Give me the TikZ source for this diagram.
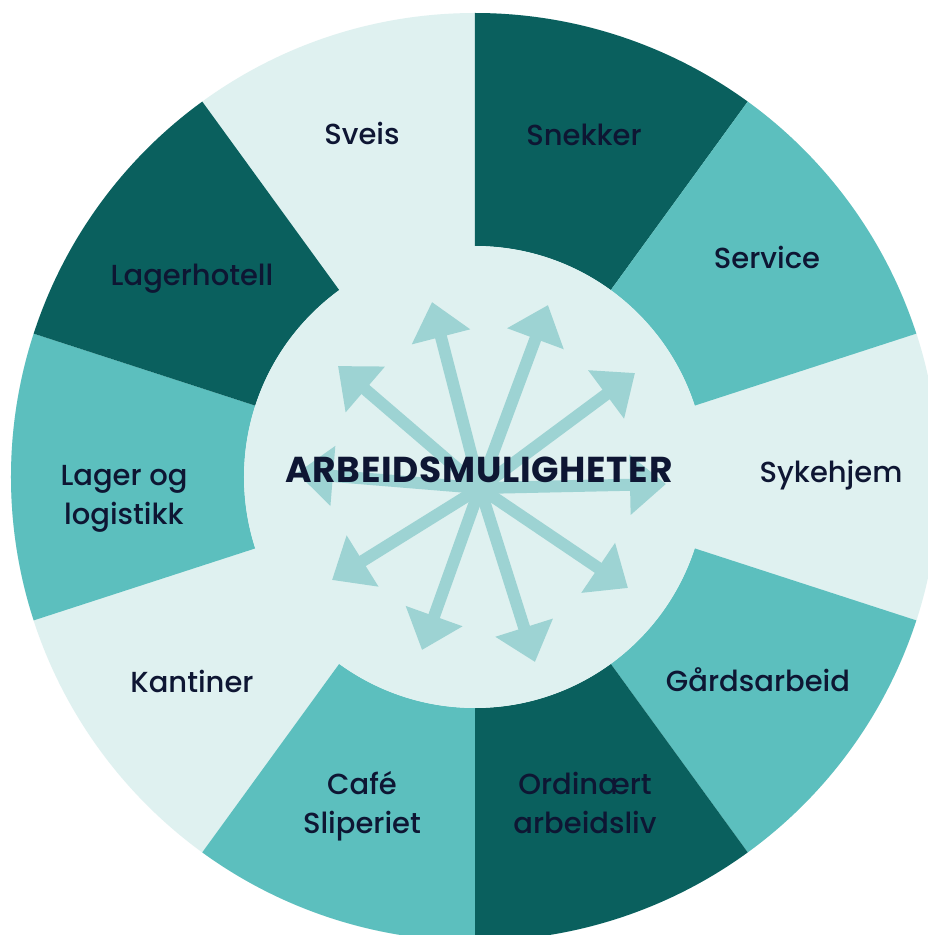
\documentclass[tikz,border=0pt]{standalone}
\usepackage{fontspec}
\IfFontExistsTF{Poppins Medium}{\setmainfont{Poppins Medium}}{\setmainfont{Poppins}}
\newfontfamily\titlefont{Poppins}[UprightFont=*-Bold]
\usetikzlibrary{arrows.meta}
\definecolor{dk}{HTML}{0A605E}
\definecolor{md}{HTML}{5CBFBE}
\definecolor{lt}{HTML}{DFF1F0}
\definecolor{arw}{HTML}{9DD3D3}
\definecolor{ink}{HTML}{0E1633}
\newcommand\sectorfill[3]{\fill[#3] (#1:231) -- (#1:464) arc[start angle=#1,end angle=#2,radius=464] -- (#2:231) arc[start angle=#2,end angle=#1,radius=231] -- cycle;}
\begin{document}
\begin{tikzpicture}[x=1pt,y=1pt,
 lbl/.style={font=\fontsize{29}{39}\selectfont, text=ink, align=center, anchor=base, inner sep=0pt},
 ttl/.style={font=\titlefont\fontsize{36}{40}\selectfont\addfontfeatures{LetterSpace=2}, text=ink, anchor=base, inner sep=0pt},
 arr/.style={draw=arw, line width=12pt, -{Triangle[length=36pt,width=58pt]}}]
\useasboundingbox (-475,-458) rectangle (453,477);
\fill[white] (-475,-458) rectangle (453,477);
% ring
\fill[lt] (0,0) circle (464);
\sectorfill{54}{90}{dk}
\sectorfill{18}{54}{md}
\sectorfill{-54}{-18}{md}
\sectorfill{-90}{-54}{dk}
\sectorfill{-126}{-90}{md}
\sectorfill{162}{198}{md}
\sectorfill{126}{162}{dk}
\fill[lt] (0,0) circle (231);
% arrows
\coordinate (c) at (5,-11);
\coordinate (t1) at (-137,111);
\coordinate (t2) at (-43,175);
\coordinate (t3) at (73,172);
\coordinate (t4) at (160,104);
\coordinate (t5) at (191,-7);
\coordinate (t6) at (153,-111);
\coordinate (t7) at (60,-185);
\coordinate (t8) at (-53,-173);
\coordinate (t9) at (-143,-103);
\coordinate (t10) at (-178,4);
\foreach \t in {t1,t2,t3,t4,t5,t6,t7,t8,t9,t10} {\draw[arr] (c) -- (\t);}
% labels
\node[lbl] (sveis) at (-113,332) {Sveis};
\node[lbl] (snekker) at (109,331) {Snekker};
\node[lbl] (service) at (292,208) {Service};
\node[lbl] (sykehjem) at (356,-5) {Sykehjem};
\node[lbl] (gard) at (283,-214) {Gårdsarbeid};
\node[lbl] (ord) at (110,-356) {Ordinært\\arbeidsliv};
\node[lbl] (cafe) at (-113,-356) {Café\\Sliperiet};
\node[lbl] (kant) at (-283,-215) {Kantiner};
\node[lbl] (lager) at (-351,-47) {Lager og\\logistikk};
\node[lbl] (hotell) at (-283,191) {Lagerhotell};
\node[ttl] (title) at (4,-5) {ARBEIDSMULIGHETER};
\end{tikzpicture}
\end{document}
